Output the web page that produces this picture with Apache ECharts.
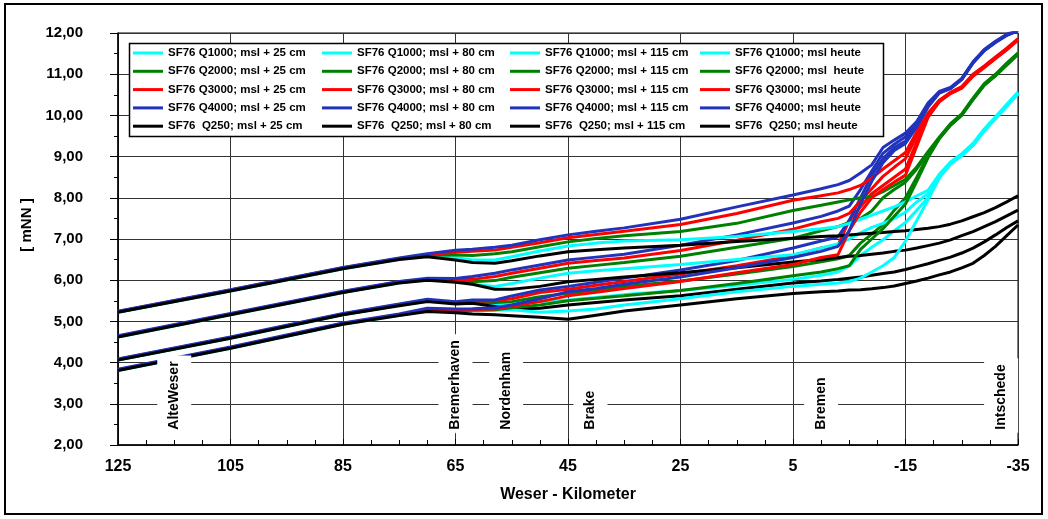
<!DOCTYPE html>
<html>
<head>
<meta charset="utf-8">
<script src="https://cdn.jsdelivr.net/npm/echarts@6/dist/echarts.min.js"></script>
<style>
  html, body { margin: 0; padding: 0; background: #fff; }
  #chart { width: 1048px; height: 519px; }
</style>
</head>
<body>
<div id="chart"></div>
<script>
// Weser-Kilometer (shared x positions of every profile)
const km = [125, 105, 85, 75, 70, 65, 62, 58, 55, 50, 45, 40, 35, 25, 15, 5, 0, -3, -5, -7,
  -9, -11, -13, -15, -17, -19, -21, -23, -25, -27, -29, -31, -33, -35];

// msl + 25 cm
const q1000_25 = [4.06, 4.59, 5.16, 5.39, 5.49, 5.44, 5.44, 5.42, 5.42, 5.48, 5.52, 5.58, 5.65, 5.75, 5.88, 6.02, 6.12, 6.20, 6.35, 6.60, 6.80, 6.98, 7.20, 7.40, 7.70, 8.00, 8.50, 8.83, 9.03, 9.28, 9.63, 9.93, 10.23, 10.53];
const q2000_25 = [4.07, 4.60, 5.17, 5.40, 5.50, 5.45, 5.46, 5.46, 5.48, 5.60, 5.68, 5.77, 5.85, 5.98, 6.15, 6.33, 6.45, 6.52, 6.60, 6.90, 7.12, 7.35, 7.70, 8.00, 8.50, 9.02, 9.44, 9.77, 10.01, 10.39, 10.74, 10.97, 11.23, 11.49];
const q3000_25 = [4.08, 4.61, 5.18, 5.41, 5.52, 5.46, 5.49, 5.50, 5.55, 5.70, 5.78, 5.88, 5.97, 6.15, 6.35, 6.59, 6.78, 6.85, 7.45, 7.78, 8.10, 8.30, 8.50, 8.70, 9.35, 9.98, 10.34, 10.54, 10.67, 10.96, 11.17, 11.39, 11.60, 11.84];
const q4000_25 = [4.09, 4.62, 5.19, 5.42, 5.54, 5.48, 5.52, 5.52, 5.62, 5.76, 5.85, 5.95, 6.05, 6.25, 6.48, 6.78, 6.95, 7.05, 7.45, 8.00, 8.55, 8.95, 9.22, 9.38, 9.75, 10.22, 10.55, 10.66, 10.88, 11.28, 11.58, 11.78, 11.95, 12.06];
const q250_25 = [4.06, 4.59, 5.16, 5.38, 5.48, 5.42, 5.44, 5.36, 5.30, 5.32, 5.40, 5.46, 5.52, 5.62, 5.78, 5.93, 5.98, 6.02, 6.05, 6.08, 6.12, 6.16, 6.20, 6.26, 6.33, 6.40, 6.48, 6.56, 6.66, 6.78, 6.93, 7.10, 7.28, 7.44];

// msl + 80 cm
const q1000_80 = [4.62, 5.16, 5.70, 5.94, 6.01, 5.98, 5.90, 5.85, 5.92, 6.05, 6.17, 6.23, 6.28, 6.38, 6.50, 6.62, 6.78, 6.88, 7.00, 7.15, 7.28, 7.38, 7.50, 7.65, 7.90, 8.10, 8.52, 8.84, 9.04, 9.29, 9.64, 9.94, 10.24, 10.54];
const q2000_80 = [4.63, 5.17, 5.71, 5.95, 6.02, 6.00, 5.96, 5.99, 6.07, 6.18, 6.29, 6.36, 6.43, 6.58, 6.80, 7.02, 7.20, 7.30, 7.40, 7.50, 7.68, 8.00, 8.20, 8.38, 8.70, 9.08, 9.45, 9.78, 10.02, 10.40, 10.75, 10.98, 11.24, 11.49];
const q3000_80 = [4.64, 5.18, 5.72, 5.96, 6.03, 6.02, 6.02, 6.09, 6.17, 6.29, 6.41, 6.48, 6.54, 6.72, 6.97, 7.24, 7.42, 7.50, 7.62, 7.92, 8.22, 8.52, 8.74, 8.95, 9.50, 10.00, 10.35, 10.54, 10.68, 10.97, 11.17, 11.39, 11.60, 11.84];
const q4000_80 = [4.65, 5.19, 5.73, 5.97, 6.05, 6.04, 6.09, 6.17, 6.25, 6.37, 6.49, 6.56, 6.63, 6.85, 7.10, 7.39, 7.55, 7.68, 7.80, 8.20, 8.65, 9.08, 9.30, 9.48, 9.80, 10.25, 10.56, 10.66, 10.88, 11.28, 11.58, 11.78, 11.95, 12.06];
const q250_80 = [4.62, 5.16, 5.70, 5.93, 6.00, 5.95, 5.90, 5.78, 5.78, 5.85, 5.96, 6.02, 6.08, 6.18, 6.30, 6.44, 6.50, 6.55, 6.58, 6.60, 6.63, 6.66, 6.70, 6.73, 6.78, 6.84, 6.90, 6.98, 7.08, 7.18, 7.30, 7.42, 7.56, 7.70];

// msl + 115 cm
const q1000_115 = [5.22, 5.74, 6.28, 6.51, 6.60, 6.55, 6.49, 6.49, 6.57, 6.71, 6.83, 6.90, 6.95, 6.98, 7.06, 7.18, 7.25, 7.30, 7.38, 7.48, 7.58, 7.68, 7.78, 7.90, 8.05, 8.18, 8.57, 8.87, 9.07, 9.32, 9.67, 9.97, 10.27, 10.57];
const q2000_115 = [5.23, 5.75, 6.29, 6.52, 6.61, 6.61, 6.60, 6.64, 6.69, 6.81, 6.93, 7.01, 7.08, 7.18, 7.38, 7.69, 7.82, 7.90, 7.95, 8.00, 8.03, 8.15, 8.30, 8.45, 8.75, 9.12, 9.47, 9.80, 10.04, 10.42, 10.77, 11.00, 11.27, 11.52];
const q3000_115 = [5.24, 5.76, 6.30, 6.53, 6.62, 6.68, 6.70, 6.73, 6.80, 6.91, 7.03, 7.11, 7.19, 7.35, 7.62, 7.94, 8.05, 8.12, 8.20, 8.30, 8.48, 8.70, 8.90, 9.10, 9.60, 10.05, 10.37, 10.56, 10.70, 11.00, 11.20, 11.42, 11.63, 11.86];
const q4000_115 = [5.25, 5.77, 6.31, 6.54, 6.64, 6.73, 6.75, 6.80, 6.85, 6.98, 7.10, 7.19, 7.27, 7.48, 7.78, 8.07, 8.22, 8.32, 8.42, 8.60, 8.80, 9.22, 9.40, 9.57, 9.85, 10.30, 10.58, 10.68, 10.90, 11.30, 11.60, 11.80, 11.97, 12.08];
const q250_115 = [5.22, 5.74, 6.28, 6.50, 6.57, 6.49, 6.43, 6.41, 6.47, 6.59, 6.69, 6.74, 6.78, 6.85, 6.94, 7.02, 7.06, 7.08, 7.10, 7.12, 7.14, 7.16, 7.18, 7.20, 7.23, 7.26, 7.30, 7.36, 7.44, 7.54, 7.64, 7.76, 7.90, 8.05];

// msl heute
const q1000_heute = [3.81, 4.35, 4.93, 5.15, 5.26, 5.24, 5.26, 5.27, 5.28, 5.22, 5.25, 5.30, 5.40, 5.55, 5.72, 5.85, 5.90, 5.93, 5.97, 6.05, 6.20, 6.35, 6.55, 6.95, 7.45, 7.95, 8.48, 8.82, 9.02, 9.27, 9.62, 9.92, 10.22, 10.52];
const q2000_heute = [3.82, 4.36, 4.94, 5.16, 5.27, 5.25, 5.27, 5.28, 5.33, 5.40, 5.50, 5.56, 5.62, 5.75, 5.92, 6.11, 6.20, 6.28, 6.35, 6.75, 7.00, 7.25, 7.55, 7.85, 8.40, 8.97, 9.43, 9.76, 10.00, 10.38, 10.73, 10.96, 11.22, 11.48];
const q3000_heute = [3.83, 4.37, 4.95, 5.17, 5.29, 5.27, 5.29, 5.30, 5.37, 5.48, 5.62, 5.71, 5.80, 5.97, 6.18, 6.38, 6.55, 6.62, 7.20, 7.65, 8.00, 8.20, 8.38, 8.55, 9.25, 9.95, 10.33, 10.53, 10.66, 10.95, 11.16, 11.38, 11.59, 11.83];
const q4000_heute = [3.84, 4.38, 4.96, 5.18, 5.32, 5.30, 5.31, 5.33, 5.40, 5.55, 5.72, 5.80, 5.90, 6.08, 6.30, 6.55, 6.70, 6.82, 7.20, 7.85, 8.40, 8.85, 9.15, 9.32, 9.72, 10.20, 10.54, 10.65, 10.87, 11.27, 11.57, 11.77, 11.94, 12.05];
const q250_heute = [3.81, 4.35, 4.93, 5.14, 5.24, 5.21, 5.18, 5.16, 5.14, 5.10, 5.05, 5.15, 5.25, 5.40, 5.55, 5.68, 5.72, 5.74, 5.76, 5.77, 5.79, 5.82, 5.86, 5.92, 5.98, 6.05, 6.13, 6.20, 6.30, 6.41, 6.60, 6.82, 7.08, 7.34];

// legend columns (names as in the original)
const names25 = ['SF76 Q1000; msl + 25 cm', 'SF76 Q2000; msl + 25 cm', 'SF76 Q3000; msl + 25 cm', 'SF76 Q4000; msl + 25 cm', 'SF76  Q250; msl + 25 cm'];
const names80 = ['SF76 Q1000; msl + 80 cm', 'SF76 Q2000; msl + 80 cm', 'SF76 Q3000; msl + 80 cm', 'SF76 Q4000; msl + 80 cm', 'SF76  Q250; msl + 80 cm'];
const names115 = ['SF76 Q1000; msl + 115 cm', 'SF76 Q2000; msl + 115 cm', 'SF76 Q3000; msl + 115 cm', 'SF76 Q4000; msl + 115 cm', 'SF76  Q250; msl + 115 cm'];
const namesHeute = ['SF76 Q1000; msl heute', 'SF76 Q2000; msl  heute', 'SF76 Q3000; msl heute', 'SF76 Q4000; msl heute', 'SF76  Q250; msl heute'];

// places along the river
const stationNames = ['AlteWeser', 'Bremerhaven', 'Nordenham', 'Brake', 'Bremen', 'Intschede'];
const stationKm = [115, 65, 56, 41, 0, -32];

const colors = ['#00ffff', '#008000', '#ff0000', '#2233bb', '#000000'];
const font = 'Liberation Sans, Arial, sans-serif';

const groups = [
  [names25, [q1000_25, q2000_25, q3000_25, q4000_25, q250_25]],
  [names80, [q1000_80, q2000_80, q3000_80, q4000_80, q250_80]],
  [names115, [q1000_115, q2000_115, q3000_115, q4000_115, q250_115]],
  [namesHeute, [q1000_heute, q2000_heute, q3000_heute, q4000_heute, q250_heute]]
];

const series = [];
groups.forEach(([names, lists]) => {
  for (let i = 0; i < names.length; i++) {
    series.push({
      name: names[i],
      type: 'line',
      symbol: 'none',
      data: km.map((k, j) => [k, lists[i][j]]),
      lineStyle: { width: 3, color: colors[i] },
      itemStyle: { color: colors[i] },
      z: 2
    });
  }
});

// station names, bottom end of the text at 2.3 m
series.push({
  type: 'scatter',
  symbolSize: 1,
  itemStyle: { color: '#fff', opacity: 1 },
  silent: true,
  z: 10,
  data: stationKm.map((k, i) => ({ name: stationNames[i], value: [k, 2.3] })),
  label: {
    show: true,
    formatter: '{b}',
    position: 'inside',
    rotate: 90,
    align: 'left',
    verticalAlign: 'middle',
    backgroundColor: '#fff',
    padding: [10, 6, 10, 3],
    color: '#000',
    textBorderWidth: 0,
    fontFamily: font,
    fontWeight: 'bold',
    fontSize: 14
  }
});

const legendLefts = [133, 322, 510, 700];
const legend = groups.map(([names], c) => ({
  orient: 'vertical',
  left: legendLefts[c],
  top: 47,
  padding: 0,
  icon: 'rect',
  itemWidth: 30,
  itemHeight: 3,
  itemGap: 6.3,
  selectedMode: false,
  z: 6,
  data: names,
  textStyle: { color: '#000', fontFamily: font, fontWeight: 'bold', fontSize: 11.5, lineHeight: 12 }
}));

const chart = echarts.init(document.getElementById('chart'));
chart.setOption({
  animation: false,
  backgroundColor: '#fff',
  grid: { left: 118, right: 30, top: 33, bottom: 74, show: true, borderColor: '#000', borderWidth: 1 },
  legend: legend,
  graphic: [
    { type: 'rect', z: 0, shape: { x: 5, y: 4, width: 1037, height: 510 }, style: { fill: 'none', stroke: '#000', lineWidth: 2 } },
    { type: 'rect', z: 5, shape: { x: 129.5, y: 43.5, width: 754, height: 93 }, style: { fill: '#fff', stroke: '#000', lineWidth: 1.5 } }
  ],
  xAxis: {
    type: 'value',
    inverse: true,
    min: -35,
    max: 125,
    interval: 20,
    name: 'Weser - Kilometer',
    nameLocation: 'middle',
    nameGap: 42,
    nameTextStyle: { color: '#000', fontFamily: font, fontWeight: 'bold', fontSize: 16 },
    axisLine: { show: true, onZero: false, lineStyle: { color: '#000', width: 1.5 } },
    axisTick: { show: true, inside: true, length: 6, lineStyle: { color: '#000' } },
    minorTick: { show: true, splitNumber: 4, length: 5, lineStyle: { color: '#000' } },
    axisLabel: { color: '#000', fontFamily: font, fontWeight: 'bold', fontSize: 16, margin: 14 },
    splitLine: { show: true, lineStyle: { color: '#333', width: 1 } }
  },
  yAxis: {
    type: 'value',
    min: 2,
    max: 12,
    interval: 1,
    name: '[ mNN ]',
    nameLocation: 'middle',
    nameGap: 78,
    nameTextStyle: { color: '#000', fontFamily: font, fontWeight: 'bold', fontSize: 15, padding: [0, 0, 0, 28] },
    axisLine: { show: true, onZero: false, lineStyle: { color: '#000', width: 1.5 } },
    axisTick: { show: true, length: 8, lineStyle: { color: '#000' } },
    minorTick: { show: true, splitNumber: 2, length: 4, lineStyle: { color: '#000' } },
    axisLabel: {
      color: '#000', fontFamily: font, fontWeight: 'bold', fontSize: 15, margin: 35,
      formatter: v => v.toFixed(2).replace('.', ',')
    },
    splitLine: { show: true, lineStyle: { color: '#333', width: 1 } }
  },
  series: series
});
</script>
</body>
</html>
